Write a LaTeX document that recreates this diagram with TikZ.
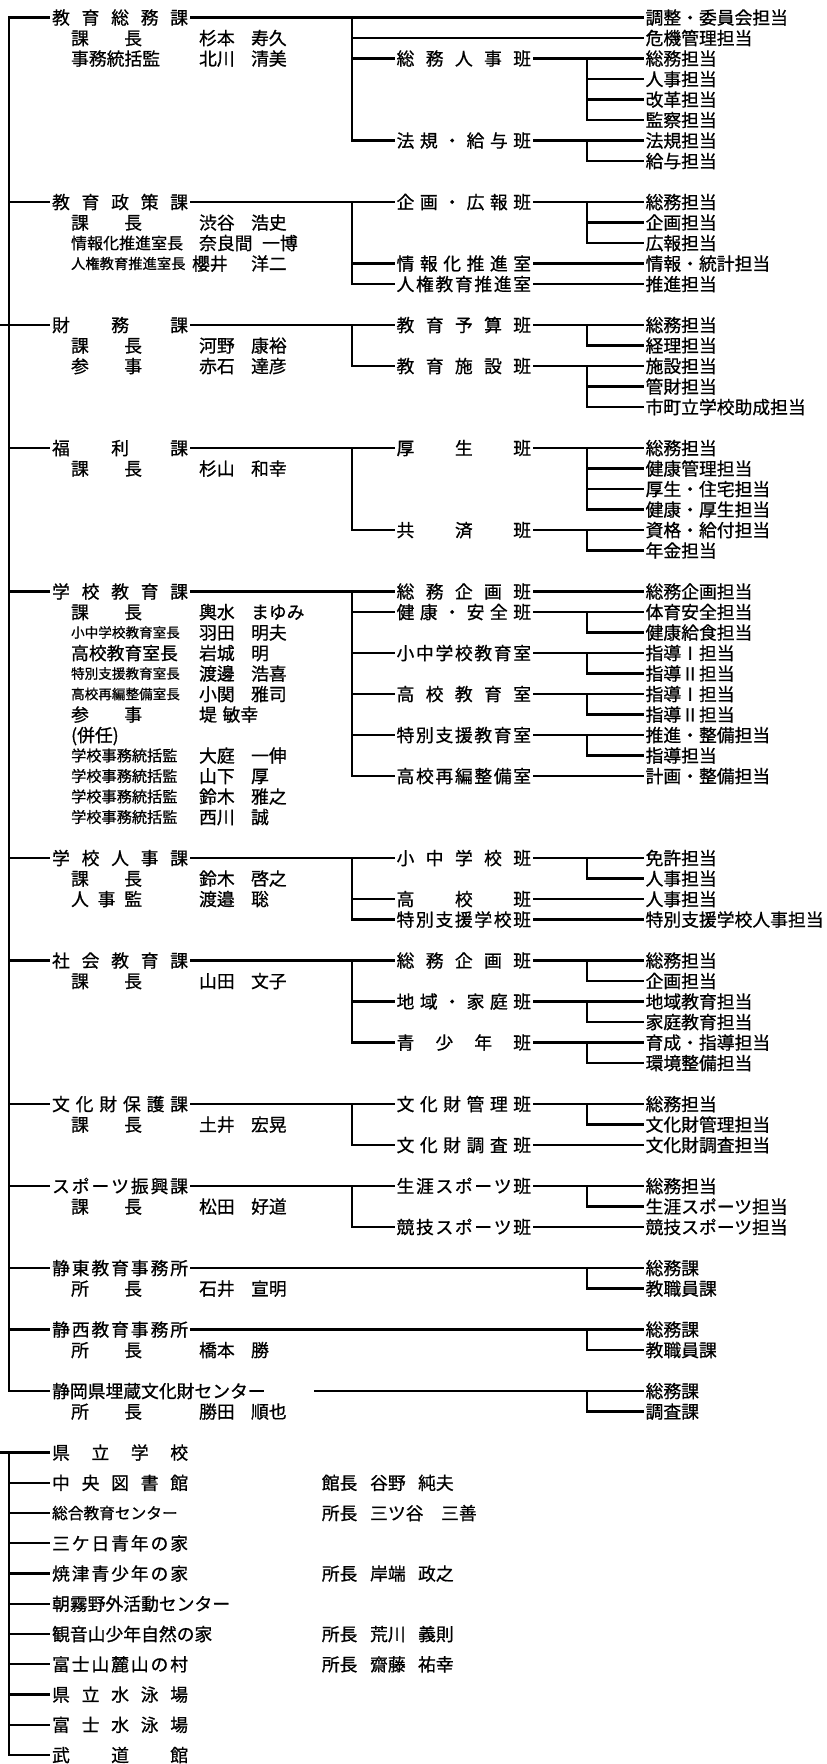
\documentclass[tikz,border=0pt]{standalone}
\usepackage{fontspec}
\setmainfont{Noto Sans CJK JP}[FakeBold=0.8]
% spread the characters of a label over a fixed width
\newcommand{\spread}[2]{\makebox[#1][s]{\spreadfirst#2\relax}}
\def\spreadfirst#1{#1\spreadrest}
\def\spreadrest#1{\ifx#1\relax\else\hfill#1\expandafter\spreadrest\fi}
\newcommand{\kw}[1]{\spread{136pt}{#1}}
\newcommand{\hw}[1]{\spread{134.5pt}{#1}}
\newcommand{\yw}[1]{\spread{71pt}{#1}}
\newcommand{\nm}[3][52pt]{\makebox[#1][l]{#2}#3}

\begin{document}
\begin{tikzpicture}[
    x=1pt, y=-20.5pt,
    line width=2.2pt, line cap=rect,
    txt/.style={anchor=west, inner xsep=2pt, inner ysep=0pt, font=\fontsize{17.8pt}{20pt}\selectfont, text height=15.7pt, text depth=2.1pt},
    fsz/.code={\pgfmathsetlengthmacro\smh{0.88*#1}\pgfmathsetlengthmacro\smd{0.12*#1}\tikzset{font=\fontsize{#1}{#1}\selectfont, text height/.expanded=\smh, text depth/.expanded=\smd}},
    ka/.style={txt},
    han/.style={txt},
    tan/.style={txt},
    yaku/.style={txt},
    shimei/.style={txt},
]
\useasboundingbox[fill=white] (0pt,17.5pt) rectangle (827pt,-1746.5pt);

% 教育総務課
\node[ka] (k0) at (49,0) {\kw{教育総務課}};
\node[yaku] (p1) at (68,1) {\yw{課長}};
\node[shimei] (n1) at (196,1) {\nm{杉本}{寿久}};
\node[yaku] (p2) at (68,2) {事務統括監};
\node[shimei] (n2) at (196,2) {\nm{北川}{清美}};
\node[han] (s2) at (393.5,2) {\hw{総務人事班}};
\node[han] (s6) at (393.5,6) {\hw{法規・給与班}};
\node[tan] (t0) at (642.5,0) {調整・委員会担当};
\node[tan] (t1) at (642.5,1) {危機管理担当};
\node[tan] (t2) at (642.5,2) {総務担当};
\node[tan] (t3) at (642.5,3) {人事担当};
\node[tan] (t4) at (642.5,4) {改革担当};
\node[tan] (t5) at (642.5,5) {監察担当};
\node[tan] (t6) at (642.5,6) {法規担当};
\node[tan] (t7) at (642.5,7) {給与担当};
\coordinate (b0) at (352,0);
\coordinate (c2) at (587,2);
\coordinate (c6) at (587,6);
\draw (k0.east) -- (t0.west);
\draw (b0) |- (t1.west) (b0) |- (s2.west) (b0) |- (s6.west);
\draw (s2.east) -- (t2.west);
\draw (c2) |- (t3.west) (c2) |- (t4.west) (c2) |- (t5.west);
\draw (s6.east) -- (t6.west);
\draw (c6) |- (t7.west);

% 教育政策課
\node[ka] (k9) at (49,9) {\kw{教育政策課}};
\node[yaku] (p10) at (68,10) {\yw{課長}};
\node[shimei] (n10) at (196,10) {\nm{渋谷}{浩史}};
\node[yaku, fsz=16pt] (p11) at (68,11) {情報化推進室長};
\node[shimei] (n11) at (196,11) {\nm[63pt]{奈良間}{一博}};
\node[yaku, fsz=14.3pt] (p12) at (68,12) {人権教育推進室長};
\node[shimei] (n12) at (189,12) {\nm[59pt]{櫻井}{洋二}};
\node[han] (s9) at (393.5,9) {\hw{企画・広報班}};
\node[han] (s12) at (393.5,12) {\hw{情報化推進室}};
\node[han] (s13) at (393.5,13) {\hw{人権教育推進室}};
\node[tan] (t9) at (642.5,9) {総務担当};
\node[tan] (t10) at (642.5,10) {企画担当};
\node[tan] (t11) at (642.5,11) {広報担当};
\node[tan] (t12) at (642.5,12) {情報・統計担当};
\node[tan] (t13) at (642.5,13) {推進担当};
\coordinate (b9) at (352,9);
\coordinate (c9) at (587,9);
\draw (k9.east) -- (s9.west);
\draw (b9) |- (s12.west) (b9) |- (s13.west);
\draw (s9.east) -- (t9.west);
\draw (c9) |- (t10.west) (c9) |- (t11.west);
\draw (s12.east) -- (t12.west);
\draw (s13.east) -- (t13.west);

% 財務課
\node[ka] (k15) at (49,15) {\kw{財務課}};
\node[yaku] (p16) at (68,16) {\yw{課長}};
\node[shimei] (n16) at (196,16) {\nm{河野}{康裕}};
\node[yaku] (p17) at (68,17) {\yw{参事}};
\node[shimei] (n17) at (196,17) {\nm{赤石}{達彦}};
\node[han] (s15) at (393.5,15) {\hw{教育予算班}};
\node[han] (s17) at (393.5,17) {\hw{教育施設班}};
\node[tan] (t15) at (642.5,15) {総務担当};
\node[tan] (t16) at (642.5,16) {経理担当};
\node[tan] (t17) at (642.5,17) {施設担当};
\node[tan] (t18) at (642.5,18) {管財担当};
\node[tan] (t19) at (642.5,19) {市町立学校助成担当};
\coordinate (b15) at (352,15);
\coordinate (c15) at (587,15);
\coordinate (c17) at (587,17);
\draw (k15.east) -- (s15.west);
\draw (b15) |- (s17.west);
\draw (s15.east) -- (t15.west);
\draw (c15) |- (t16.west);
\draw (s17.east) -- (t17.west);
\draw (c17) |- (t18.west) (c17) |- (t19.west);

% 福利課
\node[ka] (k21) at (49,21) {\kw{福利課}};
\node[yaku] (p22) at (68,22) {\yw{課長}};
\node[shimei] (n22) at (196,22) {\nm{杉山}{和幸}};
\node[han] (s21) at (393.5,21) {\hw{厚生班}};
\node[han] (s25) at (393.5,25) {\hw{共済班}};
\node[tan] (t21) at (642.5,21) {総務担当};
\node[tan] (t22) at (642.5,22) {健康管理担当};
\node[tan] (t23) at (642.5,23) {厚生・住宅担当};
\node[tan] (t24) at (642.5,24) {健康・厚生担当};
\node[tan] (t25) at (642.5,25) {資格・給付担当};
\node[tan] (t26) at (642.5,26) {年金担当};
\coordinate (b21) at (352,21);
\coordinate (c21) at (587,21);
\coordinate (c25) at (587,25);
\draw (k21.east) -- (s21.west);
\draw (b21) |- (s25.west);
\draw (s21.east) -- (t21.west);
\draw (c21) |- (t22.west) (c21) |- (t23.west) (c21) |- (t24.west);
\draw (s25.east) -- (t25.west);
\draw (c25) |- (t26.west);

% 学校教育課
\node[ka] (k28) at (49,28) {\kw{学校教育課}};
\node[yaku] (p29) at (68,29) {\yw{課長}};
\node[shimei] (n29) at (196,29) {\nm{輿水}{まゆみ}};
\node[yaku, fsz=13.6pt] (p30) at (68,30) {小中学校教育室長};
\node[shimei] (n30) at (196,30) {\nm{羽田}{明夫}};
\node[yaku] (p31) at (68,31) {高校教育室長};
\node[shimei] (n31) at (196,31) {\nm{岩城}{明}};
\node[yaku, fsz=13.6pt] (p32) at (68,32) {特別支援教育室長};
\node[shimei] (n32) at (196,32) {\nm{渡邊}{浩喜}};
\node[yaku, fsz=13.6pt] (p33) at (68,33) {高校再編整備室長};
\node[shimei] (n33) at (196,33) {\nm{小関}{雅司}};
\node[yaku] (p34) at (68,34) {\yw{参事}};
\node[shimei] (n34) at (196,34) {\nm[23.5pt]{堤}{敏幸}};
\node[yaku] (p35) at (68,35) {(併任)};
\node[yaku, fsz=15.2pt] (p36) at (68,36) {学校事務統括監};
\node[shimei] (n36) at (196,36) {\nm{大庭}{一伸}};
\node[yaku, fsz=15.2pt] (p37) at (68,37) {学校事務統括監};
\node[shimei] (n37) at (196,37) {\nm{山下}{厚}};
\node[yaku, fsz=15.2pt] (p38) at (68,38) {学校事務統括監};
\node[shimei] (n38) at (196,38) {\nm{鈴木}{雅之}};
\node[yaku, fsz=15.2pt] (p39) at (68,39) {学校事務統括監};
\node[shimei] (n39) at (196,39) {\nm{西川}{誠}};
\node[han] (s28) at (393.5,28) {\hw{総務企画班}};
\node[han] (s29) at (393.5,29) {\hw{健康・安全班}};
\node[han] (s31) at (393.5,31) {\hw{小中学校教育室}};
\node[han] (s33) at (393.5,33) {\hw{高校教育室}};
\node[han] (s35) at (393.5,35) {\hw{特別支援教育室}};
\node[han] (s37) at (393.5,37) {\hw{高校再編整備室}};
\node[tan] (t28) at (642.5,28) {総務企画担当};
\node[tan] (t29) at (642.5,29) {体育安全担当};
\node[tan] (t30) at (642.5,30) {健康給食担当};
\node[tan] (t31) at (642.5,31) {指導Ⅰ担当};
\node[tan] (t32) at (642.5,32) {指導Ⅱ担当};
\node[tan] (t33) at (642.5,33) {指導Ⅰ担当};
\node[tan] (t34) at (642.5,34) {指導Ⅱ担当};
\node[tan] (t35) at (642.5,35) {推進・整備担当};
\node[tan] (t36) at (642.5,36) {指導担当};
\node[tan] (t37) at (642.5,37) {計画・整備担当};
\coordinate (b28) at (352,28);
\coordinate (c29) at (587,29);
\coordinate (c31) at (587,31);
\coordinate (c33) at (587,33);
\coordinate (c35) at (587,35);
\draw (k28.east) -- (s28.west);
\draw (b28) |- (s29.west) (b28) |- (s31.west) (b28) |- (s33.west) (b28) |- (s35.west) (b28) |- (s37.west);
\draw (s28.east) -- (t28.west);
\draw (s29.east) -- (t29.west);
\draw (c29) |- (t30.west);
\draw (s31.east) -- (t31.west);
\draw (c31) |- (t32.west);
\draw (s33.east) -- (t33.west);
\draw (c33) |- (t34.west);
\draw (s35.east) -- (t35.west);
\draw (c35) |- (t36.west);
\draw (s37.east) -- (t37.west);

% 学校人事課
\node[ka] (k41) at (49,41) {\kw{学校人事課}};
\node[yaku] (p42) at (68,42) {\yw{課長}};
\node[shimei] (n42) at (196,42) {\nm{鈴木}{啓之}};
\node[yaku] (p43) at (68,43) {\yw{人事監}};
\node[shimei] (n43) at (196,43) {\nm{渡邉}{聡}};
\node[han] (s41) at (393.5,41) {\hw{小中学校班}};
\node[han] (s43) at (393.5,43) {\hw{高校班}};
\node[han] (s44) at (393.5,44) {\hw{特別支援学校班}};
\node[tan] (t41) at (642.5,41) {免許担当};
\node[tan] (t42) at (642.5,42) {人事担当};
\node[tan] (t43) at (642.5,43) {人事担当};
\node[tan] (t44) at (642.5,44) {特別支援学校人事担当};
\coordinate (b41) at (352,41);
\coordinate (c41) at (587,41);
\draw (k41.east) -- (s41.west);
\draw (b41) |- (s43.west) (b41) |- (s44.west);
\draw (s41.east) -- (t41.west);
\draw (c41) |- (t42.west);
\draw (s43.east) -- (t43.west);
\draw (s44.east) -- (t44.west);

% 社会教育課
\node[ka] (k46) at (49,46) {\kw{社会教育課}};
\node[yaku] (p47) at (68,47) {\yw{課長}};
\node[shimei] (n47) at (196,47) {\nm{山田}{文子}};
\node[han] (s46) at (393.5,46) {\hw{総務企画班}};
\node[han] (s48) at (393.5,48) {\hw{地域・家庭班}};
\node[han] (s50) at (393.5,50) {\hw{青少年班}};
\node[tan] (t46) at (642.5,46) {総務担当};
\node[tan] (t47) at (642.5,47) {企画担当};
\node[tan] (t48) at (642.5,48) {地域教育担当};
\node[tan] (t49) at (642.5,49) {家庭教育担当};
\node[tan] (t50) at (642.5,50) {育成・指導担当};
\node[tan] (t51) at (642.5,51) {環境整備担当};
\coordinate (b46) at (352,46);
\coordinate (c46) at (587,46);
\coordinate (c48) at (587,48);
\coordinate (c50) at (587,50);
\draw (k46.east) -- (s46.west);
\draw (b46) |- (s48.west) (b46) |- (s50.west);
\draw (s46.east) -- (t46.west);
\draw (c46) |- (t47.west);
\draw (s48.east) -- (t48.west);
\draw (c48) |- (t49.west);
\draw (s50.east) -- (t50.west);
\draw (c50) |- (t51.west);

% 文化財保護課
\node[ka] (k53) at (49,53) {\kw{文化財保護課}};
\node[yaku] (p54) at (68,54) {\yw{課長}};
\node[shimei] (n54) at (196,54) {\nm{土井}{宏晃}};
\node[han] (s53) at (393.5,53) {\hw{文化財管理班}};
\node[han] (s55) at (393.5,55) {\hw{文化財調査班}};
\node[tan] (t53) at (642.5,53) {総務担当};
\node[tan] (t54) at (642.5,54) {文化財管理担当};
\node[tan] (t55) at (642.5,55) {文化財調査担当};
\coordinate (b53) at (352,53);
\coordinate (c53) at (587,53);
\draw (k53.east) -- (s53.west);
\draw (b53) |- (s55.west);
\draw (s53.east) -- (t53.west);
\draw (c53) |- (t54.west);
\draw (s55.east) -- (t55.west);

% スポーツ振興課
\node[ka] (k57) at (49,57) {\kw{スポーツ振興課}};
\node[yaku] (p58) at (68,58) {\yw{課長}};
\node[shimei] (n58) at (196,58) {\nm{松田}{好道}};
\node[han] (s57) at (393.5,57) {\hw{生涯スポーツ班}};
\node[han] (s59) at (393.5,59) {\hw{競技スポーツ班}};
\node[tan] (t57) at (642.5,57) {総務担当};
\node[tan] (t58) at (642.5,58) {生涯スポーツ担当};
\node[tan] (t59) at (642.5,59) {競技スポーツ担当};
\coordinate (b57) at (352,57);
\coordinate (c57) at (587,57);
\draw (k57.east) -- (s57.west);
\draw (b57) |- (s59.west);
\draw (s57.east) -- (t57.west);
\draw (c57) |- (t58.west);
\draw (s59.east) -- (t59.west);

% 教育事務所・センター
\node[ka] (k61) at (49,61) {\kw{静東教育事務所}};
\node[yaku] (p62) at (68,62) {\yw{所長}};
\node[shimei] (n62) at (196,62) {\nm{石井}{宣明}};
\node[tan] (t61) at (642.5,61) {総務課};
\node[tan] (t62) at (642.5,62) {教職員課};
\coordinate (c61) at (587,61);
\draw (k61.east) -- (t61.west);
\draw (c61) |- (t62.west);

\node[ka] (k64) at (49,64) {\kw{静西教育事務所}};
\node[yaku] (p65) at (68,65) {\yw{所長}};
\node[shimei] (n65) at (196,65) {\nm{橋本}{勝}};
\node[tan] (t64) at (642.5,64) {総務課};
\node[tan] (t65) at (642.5,65) {教職員課};
\coordinate (c64) at (587,64);
\draw (k64.east) -- (t64.west);
\draw (c64) |- (t65.west);

\node[ka] (k67) at (49,67) {静岡県埋蔵文化財センター};
\node[yaku] (p68) at (68,68) {\yw{所長}};
\node[shimei] (n68) at (196,68) {\nm{勝田}{順也}};
\node[tan] (t67) at (642.5,67) {総務課};
\node[tan] (t68) at (642.5,68) {調査課};
\coordinate (e67) at (315,67);
\coordinate (c67) at (587,67);
\draw (e67) -- (t67.west);
\draw (c67) |- (t68.west);

% Root line
\coordinate (root) at (9,0);
\coordinate (stub) at (0,15);
\draw (root) |- (k0.west) (root) |- (k9.west) (root) |- (k15.west) (root) |- (k21.west)
      (root) |- (k28.west) (root) |- (k41.west) (root) |- (k46.west) (root) |- (k53.west)
      (root) |- (k57.west) (root) |- (k61.west) (root) |- (k64.west) (root) |- (k67.west);
\draw (stub) -- (k15.west);

% 出先機関
\begin{scope}[yshift=-1435pt, y=-30.25pt]
\node[ka] (g0) at (49,0) {\kw{県立学校}};
\node[ka] (g1) at (49,1) {\kw{中央図書館}};
\node[ka, fsz=15.7pt] (g2) at (49,2) {総合教育センター};
\node[ka] (g3) at (49,3) {\kw{三ケ日青年の家}};
\node[ka] (g4) at (49,4) {\kw{焼津青少年の家}};
\node[ka] (g5) at (49,5) {朝霧野外活動センター};
\node[ka] (g6) at (49,6) {観音山少年自然の家};
\node[ka] (g7) at (49,7) {\kw{富士山麓山の村}};
\node[ka] (g8) at (49,8) {\kw{県立水泳場}};
\node[ka] (g9) at (49,9) {\kw{富士水泳場}};
\node[ka] (g10) at (49,10) {\kw{武道館}};
\node[shimei] (m1) at (318.7,1) {\makebox[48.3pt][l]{館長}\nm[48pt]{谷野}{純夫}};
\node[shimei] (m2) at (318.7,2) {\makebox[48.3pt][l]{所長}\nm[71pt]{三ツ谷}{三善}};
\node[shimei] (m4) at (318.7,4) {\makebox[48.3pt][l]{所長}\nm[48pt]{岸端}{政之}};
\node[shimei] (m6) at (318.7,6) {\makebox[48.3pt][l]{所長}\nm[48pt]{荒川}{義則}};
\node[shimei] (m7) at (318.7,7) {\makebox[48.3pt][l]{所長}\nm[48pt]{齋藤}{祐幸}};
\coordinate (groot) at (9,0);
\coordinate (gstub) at (0,0);
\draw (gstub) -- (g0.west);
\draw (groot) |- (g1.west) (groot) |- (g2.west) (groot) |- (g3.west) (groot) |- (g4.west) (groot) |- (g5.west)
      (groot) |- (g6.west) (groot) |- (g7.west) (groot) |- (g8.west) (groot) |- (g9.west) (groot) |- (g10.west);
\end{scope}
\end{tikzpicture}
\end{document}
